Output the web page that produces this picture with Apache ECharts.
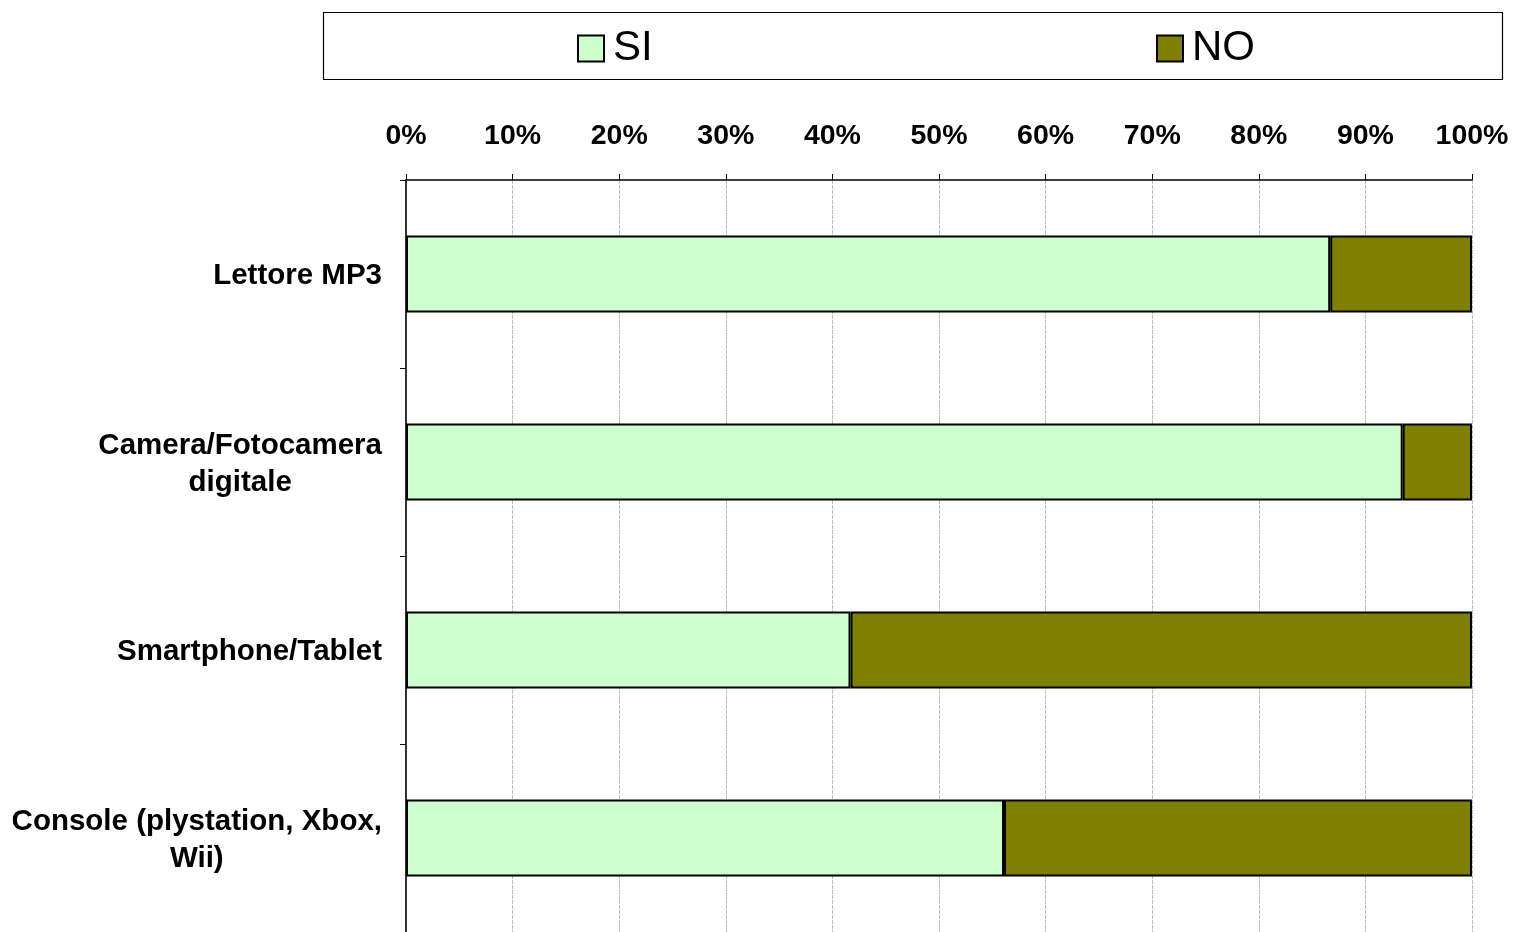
<!DOCTYPE html>
<html>
<head>
<meta charset="utf-8">
<script src="https://cdn.jsdelivr.net/npm/echarts@6/dist/echarts.min.js"></script>
<style>
html,body{margin:0;padding:0;background:#fff;}
#chart{width:1513px;height:932px;}
</style>
</head>
<body>
<div id="chart"></div>
<script>
const categories = ['Lettore MP3', 'Camera/Fotocamera\ndigitale', 'Smartphone/Tablet', 'Console (plystation, Xbox,\nWii)'];
const siValues = [86.7, 93.5, 41.7, 56.1];
const noValues = [13.3, 6.5, 58.3, 43.9];
const xTicks = [0, 10, 20, 30, 40, 50, 60, 70, 80, 90, 100];

const chart = echarts.init(document.getElementById('chart'));
const fontFam = '"Liberation Sans", Arial, sans-serif';
const legendText = { fontFamily: fontFam, fontSize: 42, lineHeight: 42, color: '#000', padding: [5, 0, 0, 4] };
chart.setOption({
  animation: false,
  backgroundColor: '#fff',
  graphic: [{
    type: 'rect', z: -1,
    shape: { x: 323.5, y: 12.5, width: 1179, height: 67 },
    style: { fill: '#fff', stroke: '#000', lineWidth: 1.2 }
  }],
  legend: [{
    data: ['SI'], left: 577, top: 25, padding: 0,
    itemWidth: 26, itemHeight: 26, icon: 'rect', textStyle: legendText
  }, {
    data: ['NO'], left: 1156, top: 25, padding: 0,
    itemWidth: 26, itemHeight: 26, icon: 'rect', textStyle: legendText
  }],
  grid: { left: 406, right: 41, top: 180, height: 756, containLabel: false },
  xAxis: {
    type: 'value', position: 'top', min: 0, max: 100, interval: 10,
    axisLine: { show: true, lineStyle: { color: '#000', width: 1.5 } },
    axisTick: { show: true, length: 6, lineStyle: { color: '#000', width: 1 } },
    axisLabel: {
      formatter: v => xTicks.includes(v) ? v + '%' : '',
      fontFamily: fontFam, fontSize: 28.5, fontWeight: 'bold', color: '#000', margin: 29
    },
    splitLine: { show: true, lineStyle: { color: '#bdbdbd', width: 1, type: [4, 1] } }
  },
  yAxis: {
    type: 'category', data: categories, inverse: true,
    axisLine: { show: true, lineStyle: { color: '#333', width: 2 } },
    axisTick: { show: true, length: 6, lineStyle: { color: '#000', width: 1 } },
    axisLabel: {
      margin: 24, color: '#000', padding: [4, 0, 0, 0],
      formatter: v => v.split('\n').map(s => '{c|' + s + '}').join('\n'),
      rich: { c: { fontFamily: fontFam, fontSize: 29.5, fontWeight: 'bold', color: '#000', align: 'center', lineHeight: 37 } }
    }
  },
  series: [{
    name: 'SI', type: 'bar', stack: 'total', data: siValues, barWidth: 77,
    itemStyle: { color: '#CCFFCC', borderColor: '#000', borderWidth: 2 }
  }, {
    name: 'NO', type: 'bar', stack: 'total', data: noValues, barWidth: 77,
    itemStyle: { color: '#808000', borderColor: '#000', borderWidth: 2 }
  }]
});
</script>
</body>
</html>
